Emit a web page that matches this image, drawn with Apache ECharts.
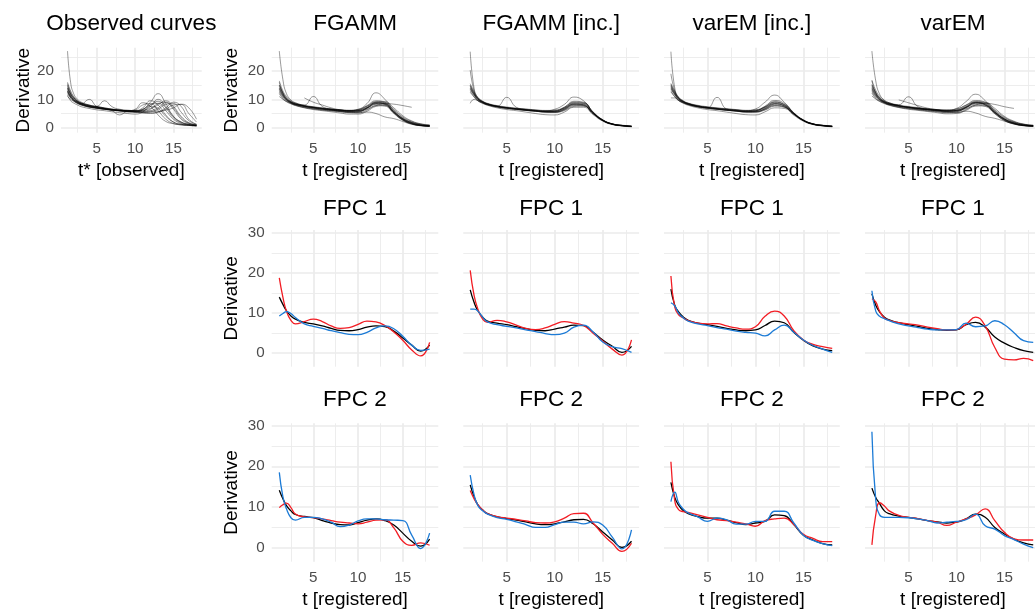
<!DOCTYPE html>
<html><head><meta charset="utf-8">
<script src="https://cdn.jsdelivr.net/npm/echarts@6/dist/echarts.min.js"></script>
<style>html,body{margin:0;padding:0;background:#fff}#c{width:1035px;height:613px}</style>
</head><body><div id="c"></div><script>
// ---------- data ----------
const T = [1.2,1.6,2,2.5,3,4,5,6,7,8,9,10,11,12,13,14,15,16,17,18];

const obsCurves = [
 [14,11.5,10,9,8.3,7.5,7,6.6,6.3,6,5.8,6.2,8,8.5,6,3,1.5,1,0.8,0.6],
 [12,10.5,9.5,8.6,8,7.3,6.8,6.5,6.2,5.9,5.6,5.5,6.3,8.2,8.6,6,3,1.5,1,0.7],
 [16,13,11,9.5,8.7,7.7,7.2,6.8,6.4,6.1,5.9,5.7,5.8,6.5,8.5,9,6.5,3,1.5,1],
 [13,11,9.8,8.8,8.2,7.4,7,6.6,6.2,5.9,5.6,5.4,5.3,5.6,6.5,8.2,8.5,5.5,2.5,1.2],
 [11,10,9.3,8.5,8,7.3,6.9,6.5,6.2,6,5.8,5.6,5.4,5.3,5.5,6.5,8,8.2,5,2],
 [27,16,12,10,9,8,7.5,7,6.6,6.3,6,6,7,9.5,8,4.5,2,1.2,0.9,0.7],
 [15,12,10.5,9.3,8.5,7.8,7.2,6.7,6.4,6.2,6,6.5,8.8,7.5,4.5,2.2,1.4,1,0.8,0.6],
 [13.5,11.2,10,9,8.4,7.6,7.4,7,6.5,6,5.8,5.7,6,7.5,10,7.5,4,2,1.2,0.8],
 [12.5,10.8,9.7,8.8,8.4,10,7.5,6.8,6.4,6.2,6,5.8,5.6,6,7,8.8,7,3.5,1.6,1],
 [14.5,12,10.5,9.3,8.6,7.9,7.5,9.5,7.4,6.5,6.2,6,5.9,5.8,5.8,6.2,7,8.3,7,3],
 [11.5,9.5,8.7,8,7.4,6.8,6.3,6,5.6,5.3,5,4.8,5.5,7.5,6.8,4,2,1.2,0.9,0.7],
 [15.5,12.5,10.8,9.5,8.8,8,7.4,6.8,6,4.5,5.8,6,6.2,6.8,8,9.5,7.5,4,1.8,1],
 [13,11,9.8,9,8.3,7.5,7,6.6,6.3,6.1,5.9,5.8,6.5,8,9.3,7,3.5,1.8,1.1,0.8],
 [12.8,10.6,9.5,8.7,8.1,7.3,6.9,6.5,6.2,6,5.9,6,6.5,9,12,8.5,4,2,1.2,0.8],
 [14,11.8,10.3,9.2,8.5,7.7,7.2,6.8,6.5,6.2,5.9,5.6,5.2,5,5.5,7,9,7.5,3,1.2]
];
const fgammCurves = [
 [16,12,10,8.8,8.2,7.5,7,6.6,6.2,5.9,5.7,6,7.2,8.7,8.5,5.5,3,1.5,0.8,0.6],
 [27,17,12,9.8,8.8,7.8,7.3,6.9,6.5,6.2,6,6.2,7.5,9.2,8.7,5.8,3.2,1.8,1,0.7],
 [13,11,9.7,8.7,8,7.2,6.7,6.3,6,5.7,5.4,5.5,6.8,8.2,8,5.3,2.8,1.4,0.8,0.5],
 [15,12.5,10.5,9.2,8.5,7.7,7.2,6.8,6.4,6.1,5.9,6,7,8.5,8.8,6.2,3.5,2,1.2,0.8],
 [11,10,9.2,8.5,7.9,7.1,6.6,6.2,5.9,5.6,5.3,5.2,6.2,7.8,7.6,5,2.6,1.3,0.7,0.5],
 [14,11.5,10,9,8.3,7.6,7.1,6.7,6.4,6.2,6.1,6.5,8.5,12.3,10,6,3.2,1.8,1,0.7],
 [null,null,null,null,null,10.5,9,8,7,6.3,5.8,5.7,6.8,8.5,8.3,5.6,3,1.6,0.9,0.6],
 [12.5,10.6,9.5,8.7,8.1,8,11,7.5,6.6,6.2,6,6,7,8.8,8.4,5.4,2.9,1.5,0.8,0.6],
 [14.5,12,10.3,9.1,8.4,7.6,7.1,6.7,6.3,6,5.8,5.9,6.5,7.8,8.5,8.3,7.8,7.2,null,null],
 [13.5,11.2,9.8,8.8,8.2,7.4,6.9,6.5,6.2,5.9,5.6,5.3,5.5,5,3.8,3.2,2.2,1.2,0.7,0.5],
 [16.5,13,11,9.5,8.7,7.9,7.4,7,6.6,6.3,6.1,6.3,7.8,9.5,9,6.5,3.8,2.2,1.3,0.9],
 [12,10.2,9.2,8.4,7.8,7,6.4,6,5.6,5.2,4.8,4.8,5.8,7.5,7.8,5.5,3.2,1.8,1,0.6],
 [15,12.2,10.4,9.2,8.5,7.7,7.2,6.8,6.5,6.3,6.1,6.4,7.6,9,9.2,7,4.2,2.4,1.4,1],
 [13.8,11.6,10,9,8.3,7.5,7,6.5,6.2,5.8,5.5,5.6,7,8.8,8.2,5.2,2.7,1.4,0.8,0.5]
];
const fgammIncCurves = [
 [26.8,14,10.5,9.2,8.4,7.6,7.1,6.7,6.3,6,5.7,5.8,6.8,8.3,8,5,2.5,1.2,0.7,0.4],
 [20.3,13,10.2,9,8.3,7.5,7,6.6,6.2,5.9,5.6,5.6,6.5,8,7.8,5,2.6,1.3,0.8,0.5],
 [14,11.8,10,8.9,8.2,7.4,6.9,6.5,6.1,5.8,5.5,5.5,6.4,8.2,8.2,5.1,2.5,1.2,0.7,0.5],
 [15,12.3,10.4,9.2,8.5,7.6,7.1,6.7,6.4,6.1,5.8,5.9,7,8.8,8.5,5.3,2.7,1.3,0.8,0.5],
 [8.6,10,9.5,8.8,8.2,7.4,6.9,6.5,6.2,5.9,5.6,5.5,6.2,7.8,7.7,4.9,2.5,1.2,0.7,0.4],
 [13.5,11.5,9.8,8.8,8.1,7.6,10.7,7.2,6.4,6,5.7,5.6,6.6,8.4,8.1,5.1,2.6,1.3,0.8,0.5],
 [14.5,12,10.2,9.1,8.4,7.5,7,6.6,6.3,6.1,6,6.5,8.2,10.8,9.5,5.6,2.8,1.4,0.8,0.5],
 [13,11,9.5,8.6,7.9,7,6.4,6,5.5,5,4.6,4.5,5.5,7.2,7.2,4.6,2.3,1.1,0.6,0.3],
 [14.8,12.2,10.3,9.1,8.4,7.6,7.1,6.8,6.5,6.2,6,6.2,7.2,9,8.8,5.4,2.8,1.4,0.9,0.6],
 [13.8,11.6,9.9,8.9,8.2,7.4,6.9,6.5,6.1,5.8,5.5,5.4,6,7.5,7.6,5,2.6,1.3,0.8,0.6],
 [15.5,12.8,10.7,9.4,8.6,7.8,7.3,6.9,6.6,6.3,6.1,6.1,6.9,8.6,8.6,5.4,2.7,1.3,0.7,0.4],
 [12.5,10.8,9.5,8.6,8,7.2,6.7,6.4,6.1,5.8,5.6,5.8,7.2,9.3,9,5.5,2.7,1.3,0.7,0.4]
];
const varemIncCurves = [
 [26.8,14,10.6,9.3,8.5,7.7,7.2,6.8,6.4,6.0,5.8,6.0,7.0,8.5,7.6,4.8,2.5,1.3,0.8,0.5],
 [19,13,10.3,9.1,8.4,7.5,7.0,6.6,6.2,5.9,5.6,5.7,6.6,8.0,7.4,4.8,2.6,1.3,0.8,0.5],
 [14.2,11.9,10.1,9.0,8.3,7.4,6.9,6.5,6.1,5.8,5.5,5.6,6.6,8.3,7.8,4.9,2.5,1.2,0.7,0.4],
 [15.3,12.5,10.6,9.3,8.6,7.7,7.2,6.8,6.5,6.2,5.9,6.0,7.3,9.0,8.0,5.0,2.6,1.3,0.8,0.5],
 [10.5,10.5,9.6,8.8,8.2,7.4,6.9,6.5,6.2,5.9,5.6,5.5,6.4,7.8,7.3,4.7,2.4,1.2,0.7,0.4],
 [13.6,11.6,9.9,8.9,8.2,7.4,7.0,10.7,6.6,6.1,5.7,5.7,6.8,8.5,7.7,4.9,2.6,1.3,0.8,0.5],
 [14.6,12.1,10.3,9.2,8.5,7.6,7.1,6.7,6.4,6.2,6.0,6.6,9.0,11.5,9.0,5.3,2.7,1.4,0.8,0.5],
 [13,11,9.6,8.6,7.9,7.0,6.4,6.0,5.5,5.0,4.6,4.5,5.6,7.0,6.8,4.4,2.3,1.1,0.6,0.3],
 [14.9,12.3,10.4,9.2,8.5,7.7,7.2,6.9,6.6,6.3,6.1,6.3,7.4,9.2,8.2,5.2,2.8,1.4,0.9,0.6],
 [13.9,11.7,10,9,8.3,7.5,7.0,6.6,6.2,5.9,5.5,5.5,6.2,7.6,7.2,4.8,2.6,1.3,0.8,0.6],
 [15.6,12.9,10.8,9.5,8.7,7.9,7.4,7.0,6.7,6.4,6.1,6.2,7.2,8.8,8.2,5.1,2.6,1.3,0.7,0.4],
 [12.6,10.9,9.6,8.7,8.1,7.3,6.8,6.5,6.2,5.9,5.7,5.9,7.6,9.6,8.6,5.2,2.6,1.3,0.7,0.4]
];
const varemCurves = [
 [16.5,12.2,10.1,8.9,8.3,7.6,7.1,6.7,6.3,6.0,5.8,6.1,7.4,8.8,8.4,5.4,2.9,1.5,0.8,0.6],
 [27,16.5,11.8,9.7,8.8,7.8,7.3,6.9,6.5,6.2,6.0,6.2,7.6,9.1,8.5,5.6,3.1,1.7,1.0,0.7],
 [13.2,11.1,9.8,8.8,8.1,7.3,6.8,6.4,6.0,5.7,5.4,5.6,7.0,8.3,7.9,5.2,2.7,1.4,0.8,0.5],
 [15.2,12.6,10.6,9.3,8.6,7.8,7.2,6.8,6.4,6.1,5.9,6.1,7.2,8.7,8.7,6.0,3.4,2.0,1.2,0.8],
 [11.2,10.1,9.3,8.6,8.0,7.2,6.7,6.3,5.9,5.6,5.3,5.3,6.4,7.9,7.5,4.9,2.5,1.3,0.7,0.5],
 [14.2,11.6,10.1,9.1,8.4,7.7,7.2,6.8,6.5,6.3,6.2,6.8,9.2,11.8,9.5,5.8,3.1,1.8,1.0,0.7],
 [null,null,null,null,null,9.8,8.8,7.8,6.9,6.3,5.8,5.8,7.0,8.6,8.1,5.5,3.0,1.6,0.9,0.6],
 [12.7,10.7,9.6,8.8,8.2,8.1,10.9,7.4,6.6,6.2,6.0,6.1,7.2,8.9,8.2,5.3,2.8,1.5,0.8,0.6],
 [14.6,12.1,10.4,9.2,8.5,7.7,7.2,6.8,6.4,6.1,5.9,6.0,6.7,8.0,8.6,8.2,7.4,6.8,null,null],
 [13.6,11.3,9.9,8.9,8.3,7.5,7.0,6.6,6.3,6.0,5.7,5.4,5.8,5.2,4.0,3.3,2.3,1.3,0.7,0.5],
 [16.8,13.2,11.1,9.6,8.8,8.0,7.5,7.1,6.7,6.4,6.2,6.5,8.0,9.6,8.9,6.3,3.7,2.1,1.2,0.8],
 [12.2,10.3,9.3,8.5,7.9,7.1,6.5,6.1,5.7,5.3,4.9,5.0,6.1,7.6,7.7,5.4,3.1,1.7,1.0,0.6],
 [15.1,12.3,10.5,9.3,8.6,7.8,7.3,6.9,6.6,6.4,6.2,6.6,7.9,9.2,9.0,6.8,4.0,2.3,1.3,0.9],
 [13.9,11.7,10.1,9.1,8.4,7.6,7.1,6.6,6.3,5.9,5.6,5.8,7.2,8.9,8.0,5.0,2.6,1.4,0.8,0.5]
];

// FPC panels: mean (black), plus (red), minus (blue)
const fpc1FgammMean   = [14,12.2,10.6,9.3,8.5,7.7,7.3,6.8,6.2,5.7,5.6,5.9,6.5,6.8,6.6,5.5,3.8,2.0,0.5,2.0];
const fpc1FgammRed    = [18.8,14,10.5,8.2,7.3,7.9,8.5,7.9,6.8,6.2,6.4,7.2,8.0,7.8,6.9,5.3,3.2,0.8,-0.7,2.7];
const fpc1FgammBlue   = [9.3,9.9,10.4,9.9,8.9,7.3,6.7,6.2,5.6,5.1,4.7,4.6,5.2,6.3,6.8,6.1,4.2,2.0,0.7,1.0];
const fpc1FgIncMean   = [15.8,12.7,10.6,9.0,8.0,7.5,7.1,6.6,6.1,5.7,5.6,6.0,6.5,7.0,6.9,5.2,3.3,1.7,0.2,1.7];
const fpc1FgIncRed    = [20.7,14.5,11.0,8.5,7.7,8.2,7.8,7.0,6.2,5.9,6.3,7.2,7.9,7.5,6.9,5.0,3.0,1.0,-0.5,3.3];
const fpc1FgIncBlue   = [11,11,10.5,9.0,7.8,7.1,6.7,6.3,5.8,5.4,4.9,4.6,5.0,6.5,7.0,5.3,2.8,1.6,1.1,0.2];
const fpc1VeIncMean   = [16,12,10.3,9.0,8.2,7.5,7.1,6.7,6.2,5.8,5.6,5.8,6.9,8.0,7.6,5.2,3.2,1.8,1.0,0.6];
const fpc1VeIncRed    = [19.3,11.5,9.6,8.8,8.1,7.5,7.3,7.4,6.8,6.3,6.0,6.6,9.2,10.5,9.3,5.6,3.3,2.2,1.6,1.2];
const fpc1VeIncBlue   = [12.6,11.8,10.0,8.8,8.0,7.3,6.9,6.4,6.0,5.5,5.2,5.0,4.3,5.8,7.0,5.2,3.3,1.9,1.0,0.2];
const fpc1VarEmMean   = [14.8,12.0,10.3,9.0,8.3,7.6,7.1,6.7,6.2,5.9,5.7,5.8,7.1,7.7,6.5,4.0,2.5,1.4,0.6,0.2];
const fpc1VarEmRed    = [13.6,12.8,10.5,8.8,8.2,7.6,7.3,7.0,6.5,6.1,5.8,5.9,7.2,9.0,6.8,1.4,-1.5,-1.7,-1.3,-1.9];
const fpc1VarEmBlue   = [15.6,10.5,9.2,8.6,8.1,7.3,6.8,6.4,6.0,5.8,5.8,5.9,7.5,6.6,6.8,8.1,7.1,5.1,3.1,2.7];

const fpc2FgammMean   = [14.1,12,10.3,9.0,8.1,7.6,7.3,6.6,6.0,5.6,5.5,6.1,6.7,7.0,6.6,5.5,3.5,1.5,0.3,2.0];
const fpc2FgammRed    = [9.8,10.5,10.9,9.8,8.2,7.5,7.3,7.0,6.6,6.2,6.0,5.8,6.2,6.7,6.8,4.8,1.5,0.5,1.1,0.5];
const fpc2FgammBlue   = [18.5,12.5,9.5,7.3,6.7,7.4,7.4,7.0,6.2,5.1,5.5,6.5,7.0,7.0,6.8,6.7,6.6,3.0,-0.3,3.5];
const fpc2FgIncMean   = [15.4,12.5,10.5,9.2,8.3,7.5,7.1,6.7,6.3,5.8,5.6,5.8,6.3,6.8,6.9,5.8,3.8,1.8,0.0,1.5];
const fpc2FgIncRed    = [14,12,10.5,9.2,8.3,7.6,7.2,6.9,6.5,6.1,6.0,6.3,7.2,8.3,8.4,6.0,3.2,1.0,-1.0,1.0];
const fpc2FgIncBlue   = [17.8,13,10.3,9.0,8.2,7.3,6.9,6.3,5.6,4.9,4.9,5.6,6.2,6.2,5.8,6.3,5.5,2.5,-0.4,4.3];
const fpc2VeIncMean   = [16.0,12.3,10.4,9.0,8.3,7.6,7.2,7.2,6.7,6.1,5.6,6.0,6.4,8.0,7.8,5.6,3.0,1.8,0.9,0.6];
const fpc2VeIncRed    = [21.1,11.5,9.3,8.8,8.6,8.0,7.4,6.8,6.6,6.2,5.8,5.2,6.6,7.0,7.2,5.6,3.2,2.2,1.4,1.4];
const fpc2VeIncBlue   = [11.3,13.6,11.0,9.4,8.5,7.5,6.4,7.2,6.8,5.7,5.7,6.4,6.4,8.9,8.9,6.0,3.0,1.7,0.9,0.4];
const fpc2VarEmMean   = [14.6,12.3,10.8,9.0,8.3,7.7,7.4,7.0,6.6,6.3,6.0,6.2,7.0,8.2,7.4,4.9,3.3,2.0,1.1,0.6];
const fpc2VarEmRed    = [0.6,8,11.0,10.2,9.0,7.9,7.4,7.1,6.6,6.2,5.4,6.2,7.0,8.0,9.5,6.6,3.7,2.1,1.8,1.8];
const fpc2VarEmBlue   = [28.5,11.7,8.0,7.4,7.4,7.4,7.3,7.0,6.6,6.0,6.2,6.4,6.8,8.2,5.3,4.5,2.9,1.9,0.8,-0.1];

const topTitles = ['Observed curves','FGAMM','FGAMM [inc.]','varEM [inc.]','varEM'];
const xBreaks = [5,10,15];
const xMinorBreaks = [2.5,7.5,12.5,17.5];
const yBreaksTop = [0,10,20];
const yBreaksFpc = [0,10,20,30];
const yMinorBreaks = [5,15,25];

// ---------- layout ----------
const FONT = '"Liberation Sans", Arial, Helvetica, sans-serif';
const GRID_COL = '#EBEBEB';
const RED = '#F21D24', BLUE = '#1C7BD6';
const cols = [
  {left:61,    width:140.7, xmin:0.35, xmax:18.68},
  {left:271.7, width:166.6, xmin:0.35, xmax:18.97},
  {left:463.3, width:175.8, xmin:0.48, xmax:18.79},
  {left:664,   width:175.8, xmin:0.48, xmax:18.79},
  {left:865,   width:175.8, xmin:0.48, xmax:18.79}
];
const rows = [
  {top:47.7,  height:85,    ymin:-1.76, ymax:28.2},
  {top:230,   height:136.7, ymin:-3.4,  ymax:30.8},
  {top:423.3, height:138.4, ymin:-3.55, ymax:30.6}
];

const grids=[], xAxes=[], yAxes=[], series=[], graphics=[];

function gridLineData(yMajor){
  const d=[];
  xMinorBreaks.forEach(v=>d.push({xAxis:v, lineStyle:{width:0.9,color:GRID_COL,type:'solid'}}));
  yMinorBreaks.forEach(v=>d.push({yAxis:v, lineStyle:{width:0.9,color:GRID_COL,type:'solid'}}));
  xBreaks.forEach(v=>d.push({xAxis:v, lineStyle:{width:1.7,color:GRID_COL,type:'solid'}}));
  yMajor.forEach(v=>d.push({yAxis:v, lineStyle:{width:1.7,color:GRID_COL,type:'solid'}}));
  return d;
}

function addPanel(r, c, opts){
  const g = grids.length;
  const C = cols[c], R = rows[r];
  grids.push({left:C.left, top:R.top, width:C.width, height:R.height, outerBoundsMode:'none', containLabel:false});
  xAxes.push({
    type:'value', gridIndex:g, min:C.xmin, max:C.xmax,
    axisLine:{show:false}, axisTick:{show:false}, splitLine:{show:false},
    axisLabel:{show:opts.xLabels, customValues:xBreaks, fontSize:15.2, color:'#4D4D4D', fontFamily:FONT, margin:9},
    name: opts.xName || '', nameLocation:'middle', nameGap:29,
    nameTextStyle:{fontSize:19, color:'#000', fontFamily:FONT}
  });
  yAxes.push({
    type:'value', gridIndex:g, min:R.ymin, max:R.ymax,
    axisLine:{show:false}, axisTick:{show:false}, splitLine:{show:false},
    axisLabel:{show:opts.yLabels, customValues:opts.yMajor, fontSize:15.2, color:'#4D4D4D', fontFamily:FONT, margin:opts.yMargin||7},
    name: opts.yLabels ? 'Derivative' : '', nameLocation:'middle', nameGap:opts.yNameGap||28, nameRotate:90,
    nameTextStyle:{fontSize:19, color:'#000', fontFamily:FONT}
  });
  series.push({type:'line', xAxisIndex:g, yAxisIndex:g, data:[], silent:true,
    markLine:{silent:true, symbol:['none','none'], label:{show:false}, animation:false, z:1, data:gridLineData(opts.yMajor)}});
  opts.curves.forEach(cv=>{
    series.push({type:'line', xAxisIndex:g, yAxisIndex:g, z:2, showSymbol:false, smooth:true, silent:true,
      data:T.map((t,i)=>[t, cv.v[i]==null?'-':cv.v[i]]),
      lineStyle:{color:cv.color, width:cv.width, opacity:cv.opacity}});
  });
  graphics.push({type:'text', x:C.left+C.width/2, y:opts.titleY, silent:true,
    style:{text:opts.title, fontSize:22.5, fontFamily:FONT, fill:'#000', align:'center', verticalAlign:'middle'}});
}

function spaghetti(list){ return list.map(v=>({v, color:'#000', width:0.8, opacity:0.5})); }
function fpc(m,r,b){ return [{v:m,color:'#000',width:1.3,opacity:1},{v:r,color:RED,width:1.3,opacity:1},{v:b,color:BLUE,width:1.3,opacity:1}]; }

const topSets = [obsCurves, fgammCurves, fgammIncCurves, varemIncCurves, varemCurves];
topSets.forEach((set,c)=>{
  addPanel(0, c, {curves:spaghetti(set), xLabels:true, yLabels:c<2, yMajor:yBreaksTop,
    xName: c===0 ? 't* [observed]' : 't [registered]', title:topTitles[c], titleY:23.5, yNameGap: c===0?25:30});
});
const fpc1Sets = [
  fpc(fpc1FgammMean,fpc1FgammRed,fpc1FgammBlue),
  fpc(fpc1FgIncMean,fpc1FgIncRed,fpc1FgIncBlue),
  fpc(fpc1VeIncMean,fpc1VeIncRed,fpc1VeIncBlue),
  fpc(fpc1VarEmMean,fpc1VarEmRed,fpc1VarEmBlue)
];
const fpc2Sets = [
  fpc(fpc2FgammMean,fpc2FgammRed,fpc2FgammBlue),
  fpc(fpc2FgIncMean,fpc2FgIncRed,fpc2FgIncBlue),
  fpc(fpc2VeIncMean,fpc2VeIncRed,fpc2VeIncBlue),
  fpc(fpc2VarEmMean,fpc2VarEmRed,fpc2VarEmBlue)
];
fpc1Sets.forEach((cv,i)=>addPanel(1, i+1, {curves:cv, xLabels:false, yLabels:i===0, yMajor:yBreaksFpc, title:'FPC 1', titleY:209, yNameGap:30}));
fpc2Sets.forEach((cv,i)=>addPanel(2, i+1, {curves:cv, xLabels:true, yLabels:i===0, yMajor:yBreaksFpc, xName:'t [registered]', title:'FPC 2', titleY:400, yNameGap:30}));

const chart = echarts.init(document.getElementById('c'), null, {renderer:'canvas'});
chart.setOption({
  animation:false, backgroundColor:'#fff',
  grid:grids, xAxis:xAxes, yAxis:yAxes, series:series, graphic:graphics
});
</script></body></html>
